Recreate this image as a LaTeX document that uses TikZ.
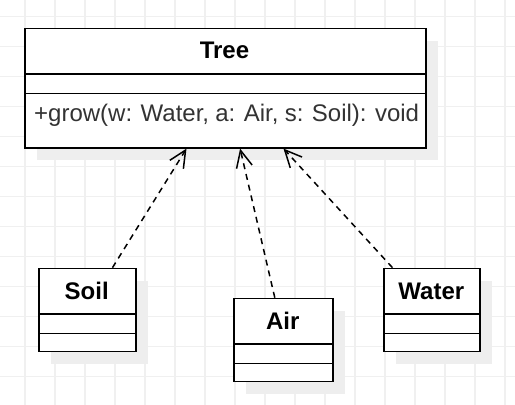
\documentclass[tikz,border=0pt]{standalone}
\usepackage{fontspec}
\setmainfont{Liberation Sans}
\usetikzlibrary{arrows.meta,calc,shadows}
\definecolor{gridc}{HTML}{F0F0F0}
\definecolor{shadowc}{HTML}{EEEEEE}
\definecolor{methc}{HTML}{333333}
\begin{document}
\begin{tikzpicture}[x=1pt,y=-1pt,
  classbox/.style={draw=black, line width=1.6pt, fill=white, inner sep=0pt, anchor=north west,
    drop shadow={shadow xshift=12pt, shadow yshift=-12pt, fill=shadowc, opacity=1}},
  divider/.style={draw=black, line width=1.6pt},
  titletext/.style={inner sep=0pt, font=\fontsize{24}{28}\selectfont\bfseries},
  methtext/.style={inner sep=0pt, anchor=base west, text=methc, font=\fontsize{24}{28}\selectfont},
  dep/.style={line width=1.5pt, dash pattern=on 6pt off 5pt,
    -{Straight Barb[length=17pt,width=16pt,line width=1.5pt]}}]
\useasboundingbox (0,0) rectangle (515,405);
\fill[white] (0,0) rectangle (515,405);
% grid
\foreach \gx in {25,55,...,505} \draw[gridc, line width=1.6pt] (\gx,0) -- (\gx,405);
\foreach \gy in {16.5,46.5,...,400} \draw[gridc, line width=1.6pt] (0,\gy) -- (515,\gy);
% classes
\node[classbox, minimum width=401pt, minimum height=119.3pt] (tree) at (24,27.7) {};
\node[classbox, minimum width=96.7pt, minimum height=83pt] (soil) at (38.3,267.7) {};
\node[classbox, minimum width=99pt, minimum height=83pt] (air) at (233.3,297.7) {};
\node[classbox, minimum width=96pt, minimum height=83pt] (water) at (383.3,267.7) {};
% dividers
\foreach \n in {tree,soil,air,water}{
  \draw[divider] ($(\n.north west)+(0,46.5)$) -- ($(\n.north east)+(0,46.5)$);
  \draw[divider] ($(\n.north west)+(0,65.8)$) -- ($(\n.north east)+(0,65.8)$);
}
% texts
\node[titletext] (treet) at (224.5,50.8) {Tree};
\node[methtext] (treem) at (34,121.5) {\spaceskip=0.26em\relax +grow(w: Water, a: Air, s: Soil): void};
\node[titletext] (soilt) at (86.7,291) {Soil};
\node[titletext] (airt) at (282.8,321) {Air};
\node[titletext] (watert) at (431.3,291) {Water};
% dependencies
\draw[dep] ($(soil.north)+(25,0)$) -- ($(tree.south)+(-38.8,0)$);
\draw[dep] ($(air.north)+(-8.8,0)$) -- ($(tree.south)+(14.8,0)$);
\draw[dep] ($(water.north)+(-39.6,0)$) -- ($(tree.south)+(58.2,0)$);
\end{tikzpicture}
\end{document}
